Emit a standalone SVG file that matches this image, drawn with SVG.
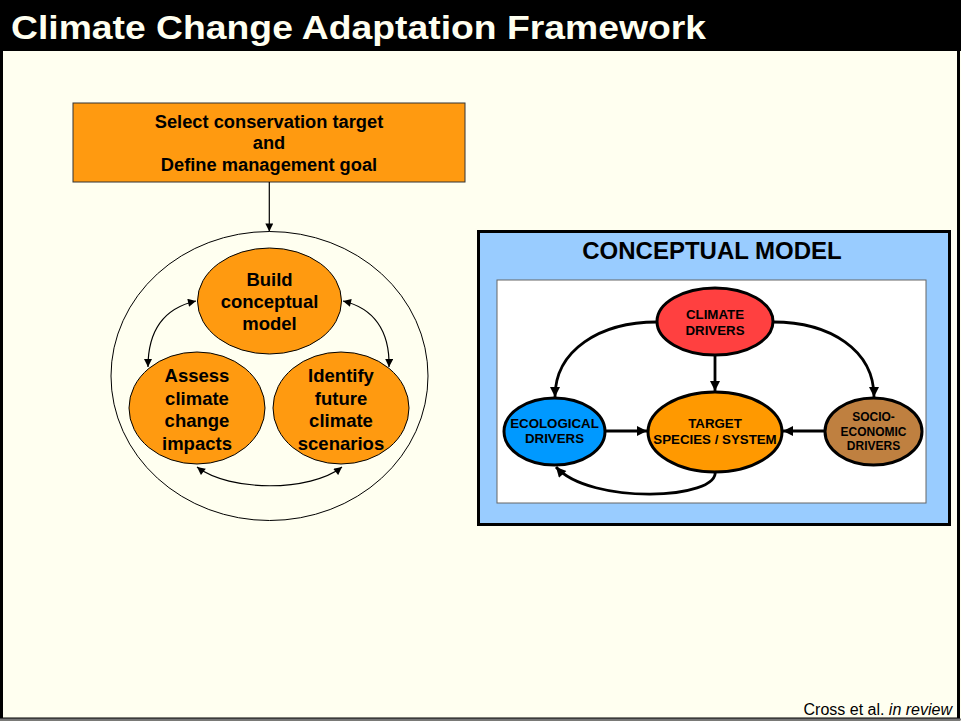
<svg xmlns="http://www.w3.org/2000/svg" width="961" height="721" viewBox="0 0 961 721">
<defs>
<style>
.t{font-family:"Liberation Sans",Arial,sans-serif;font-weight:bold;fill:#000;text-anchor:middle}
.thin{fill:none;stroke:#000;stroke-width:1.2}
.thick{fill:none;stroke:#000;stroke-width:2.8}
.ell{stroke:#000;stroke-width:1}
.cm{stroke:#000;stroke-width:3}
</style>
<marker id="a1" viewBox="0 0 10 10" refX="10" refY="5" markerWidth="9" markerHeight="8" markerUnits="userSpaceOnUse" orient="auto-start-reverse"><path d="M0,0L10,5L0,10z" fill="#000"/></marker>
<marker id="a2" viewBox="0 0 10 10" refX="10" refY="5" markerWidth="11" markerHeight="10" markerUnits="userSpaceOnUse" orient="auto-start-reverse"><path d="M0,0L10,5L0,10z" fill="#000"/></marker>
</defs>
<rect x="0" y="0" width="961" height="721" fill="#FFFFF0"/>
<rect x="1.5" y="40" width="957" height="679" fill="none" stroke="#000" stroke-width="3"/>
<line x1="0" y1="719.5" x2="961" y2="719.5" stroke="#777" stroke-width="2"/>
<rect x="0" y="0" width="961" height="51" fill="#000"/>
<text x="11" y="39" font-family="'Liberation Sans',Arial,sans-serif" font-weight="bold" font-size="33" fill="#FFFFF0" textLength="695" lengthAdjust="spacingAndGlyphs">Climate Change Adaptation Framework</text>

<g id="goal">
<rect x="73" y="103" width="392" height="79" fill="#FF9A10" stroke="#333" stroke-width="1"/>
<text class="t" font-size="18.3" x="269" y="128">Select conservation target</text>
<text class="t" font-size="18.3" x="269" y="149">and</text>
<text class="t" font-size="18.3" x="269" y="171">Define management goal</text>
</g>
<g id="cycle">
<ellipse cx="269.5" cy="376" rx="158.5" ry="144.5" fill="none" stroke="#000" stroke-width="1"/>
</g>
<g id="build">
<ellipse class="ell" cx="269.5" cy="301" rx="72" ry="53" fill="#FF9A10"/>
<text class="t" font-size="18.5" x="269.5" y="286">Build</text>
<text class="t" font-size="18.5" x="269.5" y="308">conceptual</text>
<text class="t" font-size="18.5" x="269.5" y="330">model</text>
</g>
<g id="assess">
<ellipse class="ell" cx="197" cy="408" rx="68" ry="56" fill="#FF9A10"/>
<text class="t" font-size="18.5" x="197" y="382">Assess</text>
<text class="t" font-size="18.5" x="197" y="405">climate</text>
<text class="t" font-size="18.5" x="197" y="427">change</text>
<text class="t" font-size="18.5" x="197" y="450">impacts</text>
</g>
<g id="identify">
<ellipse class="ell" cx="341" cy="408" rx="68" ry="56" fill="#FF9A10"/>
<text class="t" font-size="18.5" x="341" y="382">Identify</text>
<text class="t" font-size="18.5" x="341" y="405">future</text>
<text class="t" font-size="18.5" x="341" y="427">climate</text>
<text class="t" font-size="18.5" x="341" y="450">scenarios</text>
</g>

<g id="model-panel">
<rect x="478.5" y="231.5" width="471" height="293" fill="#99CCFF" stroke="#000" stroke-width="3"/>
<text class="t" font-size="24" x="712" y="259">CONCEPTUAL MODEL</text>
<rect x="497" y="280" width="429" height="223" fill="#FFFFFF" stroke="#666" stroke-width="1"/>
</g>
<g id="climate">
<ellipse class="cm" cx="715" cy="321.5" rx="58" ry="33.5" fill="#FF4040"/>
<text class="t" font-size="13.3" x="715" y="319">CLIMATE</text>
<text class="t" font-size="13.3" x="715" y="335">DRIVERS</text>
</g>
<g id="target">
<ellipse class="cm" cx="715" cy="432" rx="67" ry="40" fill="#FF9900"/>
<text class="t" font-size="13.3" x="715" y="428">TARGET</text>
<text class="t" font-size="13.3" x="715" y="444">SPECIES / SYSTEM</text>
</g>
<g id="ecological">
<ellipse class="cm" cx="554.5" cy="431.5" rx="50.5" ry="33.5" fill="#0099FF"/>
<text class="t" font-size="13.3" x="554.5" y="428">ECOLOGICAL</text>
<text class="t" font-size="13.3" x="554.5" y="443">DRIVERS</text>
</g>
<g id="socio">
<ellipse class="cm" cx="873.5" cy="431.5" rx="48.5" ry="33.5" fill="#BF8040"/>
<text class="t" font-size="12" x="873.5" y="421">SOCIO-</text>
<text class="t" font-size="12" x="873.5" y="436">ECONOMIC</text>
<text class="t" font-size="12" x="873.5" y="450">DRIVERS</text>
</g>

<g id="connectors">
<line class="thin" x1="269.3" y1="182" x2="269.3" y2="231.5" marker-end="url(#a1)"/>
<path class="thin" d="M148,367 C148,330 165,308 196,301" marker-start="url(#a1)" marker-end="url(#a1)"/>
<path class="thin" d="M343,301 C373,308 390,330 389,367" marker-start="url(#a1)" marker-end="url(#a1)"/>
<path class="thin" d="M197,467 C230,492 310,492 342,467" marker-start="url(#a1)" marker-end="url(#a1)"/>
<path class="thick" d="M657,322 C600,322 555,350 555,397" marker-end="url(#a2)"/>
<path class="thick" d="M773,322 C830,322 874,350 874,397" marker-end="url(#a2)"/>
<line class="thick" x1="715" y1="355" x2="715" y2="391" marker-end="url(#a2)"/>
<line class="thick" x1="605" y1="431" x2="647" y2="431" marker-end="url(#a2)"/>
<line class="thick" x1="825" y1="431" x2="783" y2="431" marker-end="url(#a2)"/>
<path class="thick" d="M715,471 C720,500 590,505 556,467" marker-end="url(#a2)"/>
</g>

<text x="952" y="715" font-family="'Liberation Sans',Arial,sans-serif" font-size="16" fill="#000" text-anchor="end">Cross et al. <tspan font-style="italic">in review</tspan></text>
</svg>
